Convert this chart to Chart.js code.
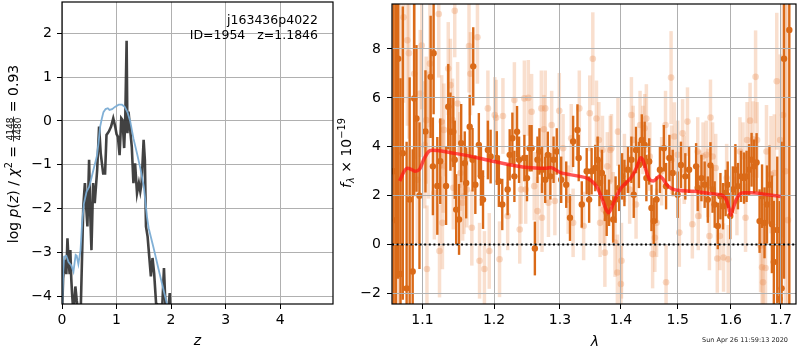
<!DOCTYPE html>
<html>
<head>
<meta charset="utf-8">
<script src="https://cdn.jsdelivr.net/npm/chart.js@4.4.0/dist/chart.umd.min.js"></script>
<style>
  html, body { margin: 0; padding: 0; background: #fff; }
  #wrap { position: relative; width: 800px; height: 350px; }
  #pz { position: absolute; left: 0; top: 0; }
  #spec { position: absolute; left: 334px; top: 0; }
</style>
</head>
<body>
<div id="wrap">
  <canvas id="pz" width="340" height="350"></canvas>
  <canvas id="spec" width="466" height="350"></canvas>
</div>
<script>
// ---- left panel: log p(z)
const zTicks = [0, 1, 2, 3, 4];
const logpTicks = [-4, -3, -2, -1, 0, 1, 2];

// smooth fit (blue)
const zFit = [0, 0.02, 0.04, 0.08, 0.12, 0.17, 0.21, 0.25, 0.27, 0.3, 0.34, 0.37, 0.4, 0.45, 0.5, 0.55, 0.6, 0.64, 0.67, 0.7,
  0.73, 0.76, 0.8, 0.84, 0.87, 0.92, 0.97, 1.04, 1.1, 1.15, 1.2, 1.25, 1.31, 1.375, 1.44, 1.5, 1.53, 1.56, 1.59, 1.68,
  1.77, 1.87, 1.93, 1.97];
const logpFit = [-4.3, -3.5, -3.1, -3.08, -3.22, -3.3, -3.44, -3.06, -3.08, -3.27, -2.95, -2.3, -1.9, -1.62, -1.5, -1.25, -1.0, -0.8, -0.5, -0.13,
  0.05, 0.2, 0.27, 0.29, 0.25, 0.27, 0.32, 0.37, 0.37, 0.32, 0.2, 0.0, -0.4, -0.74, -1.1, -1.5, -1.85, -2.2, -2.45, -2.9,
  -3.38, -3.9, -4.2, -4.5];

// chi2 curve (dark)
const zChi = [0.0, 0.02, 0.05, 0.08, 0.1, 0.12, 0.14, 0.153, 0.17, 0.184, 0.21, 0.245, 0.27, 0.31, 0.34, 0.37, 0.39, 0.42, 0.445, 0.466,
  0.497, 0.52, 0.54, 0.571, 0.6, 0.645, 0.68, 0.71, 0.755, 0.79, 0.816, 0.86, 0.9, 0.94, 0.976, 1.0, 1.025, 1.056, 1.087, 1.11,
  1.14, 1.16, 1.185, 1.2, 1.22, 1.25, 1.28, 1.31, 1.34, 1.376, 1.41, 1.436, 1.46, 1.497, 1.52, 1.54, 1.57, 1.6, 1.63, 1.66,
  1.69, 1.725, 1.76, 1.84, 1.87, 1.9, 1.95, 1.976, 1.99];
const logpChi = [-4.5, -3.6, -3.17, -3.5, -2.68, -3.17, -3.5, -2.95, -3.6, -3.93, -4.4, -3.78, -4.1, -4.5, -4.5, -3.0, -1.96, -1.42, -2.0, -2.41,
  -0.89, -2.2, -2.95, -1.42, -1.88, -1.12, -0.13, -0.74, -1.2, -1.2, -0.32, -0.24, -0.13, 0.06, -0.13, -0.3, -0.36, -0.78, 0.06, 0.02,
  -0.62, 0.02, 1.83, -0.28, 0.21, -0.2, -0.59, -1.42, -0.97, -1.65, -1.42, -1.61, -1.42, -0.43, -0.9, -2.41, -2.64, -3.1, -3.55, -3.13,
  -3.48, -4.16, -4.2, -4.2, -3.36, -4.3, -4.3, -3.93, -4.4];

// ---- right panel: spectrum
const lamTicks = [1.1, 1.2, 1.3, 1.4, 1.5, 1.6, 1.7];
const fluxTicks = [-2, 0, 2, 4, 6, 8];

const darkLam = [1.062, 1.065, 1.068, 1.071, 1.074, 1.079, 1.083, 1.087, 1.089, 1.092, 1.096, 1.104, 1.111, 1.114, 1.115, 1.12, 1.124, 1.132, 1.135, 1.138,
  1.142, 1.144, 1.146, 1.15, 1.153, 1.158, 1.16, 1.165, 1.169, 1.17, 1.173, 1.178, 1.181, 1.184, 1.191, 1.195, 1.204, 1.207, 1.212, 1.22,
  1.223, 1.227, 1.23, 1.234, 1.237, 1.245, 1.249, 1.253, 1.256, 1.261, 1.265, 1.268, 1.272, 1.277, 1.281, 1.285, 1.29, 1.295, 1.302, 1.31,
  1.316, 1.321, 1.328, 1.33, 1.335, 1.343, 1.347, 1.351, 1.357, 1.361, 1.364, 1.368, 1.373, 1.376, 1.38, 1.387, 1.391, 1.397, 1.402, 1.406,
  1.412, 1.418, 1.422, 1.426, 1.431, 1.436, 1.441, 1.444, 1.449, 1.453, 1.457, 1.462, 1.468, 1.475, 1.479, 1.485, 1.491, 1.5, 1.506, 1.514,
  1.521, 1.534, 1.537, 1.544, 1.55, 1.556, 1.561, 1.565, 1.569, 1.575, 1.58, 1.585, 1.59, 1.594, 1.599, 1.604, 1.609, 1.614, 1.62, 1.626,
  1.631, 1.636, 1.641, 1.646, 1.651, 1.657, 1.662, 1.667, 1.672, 1.677, 1.682, 1.686, 1.693, 1.698, 1.702, 1.707, 1.718];
const darkFlux = [3.0, 1.0, 7.6, -1.2, 3.74, -1.79, 1.84, -1.1, 5.98, 5.16, 2.0, 4.63, 6.86, 3.2, 7.83, 2.4, 3.41, 2.4, 5.64, 4.62,
  4.62, 3.47, 1.43, 1.03, 4.15, 3.33, 2.52, 4.82, 3.47, 7.29, 2.45, 4.08, 2.79, 1.84, 3.87, 3.6, 3.54, 2.59, 1.64, 2.25,
  3.67, 4.35, 2.79, 4.62, 3.47, 3.54, 2.72, 3.94, 3.94, -0.16, 3.47, 3.81, 3.06, 2.65, 3.67, 2.79, 3.47, 3.81, 2.65, 2.45,
  1.1, 4.22, 4.69, 3.54, 1.64, 3.0, 1.84, 3.0, 3.13, 3.47, 2.52, 2.93, 1.91, 1.3, 1.71, 1.03, 1.84, 2.32, 2.79, 2.52,
  3.06, 3.47, 2.04, 3.87, 3.26, 4.28, 4.08, 2.72, 3.4, 1.5, 0.96, 1.84, 3.06, 3.94, 2.39, 3.54, 2.93, 2.04, 3.26, 2.79,
  3.06, 3.2, 2.32, 2.72, 2.45, 1.84, 3.24, 2.25, 1.64, 0.76, 1.98, 1.57, 2.11, 2.45, 1.17, 2.25, 3.06, 2.39, 2.79, 2.72,
  2.79, 3.06, 3.47, 3.2, 3.36, 0.96, 1.98, 0.89, 1.64, 2.45, 0.83, -0.71, 0.6, -2.22, -1.79, 7.6, 8.78];
const darkErr = [12, 10, 9, 8, 6, 6, 5, 5, 4, 3, 3, 2.5, 2.5, 2, 2.5, 2, 1.75, 1.6, 1.75, 1.6,
  1.45, 1.6, 1.45, 1.45, 1.6, 1.3, 1.45, 1.3, 1.3, 1.6, 1.2, 1.3, 1.2, 1.2, 1.2, 1.1, 1.1, 1.05, 1.05, 1.05,
  1.05, 1.05, 1.05, 1.05, 0.95, 0.95, 0.95, 0.95, 0.95, 1.1, 0.95, 0.95, 0.95, 0.95, 0.95, 0.95, 0.95, 0.95, 0.95, 0.95,
  0.95, 1.05, 1.05, 0.95, 0.95, 0.95, 0.95, 0.95, 0.95, 0.95, 0.95, 0.95, 0.95, 0.95, 0.95, 0.95, 0.95, 0.95, 0.95, 0.95,
  0.95, 0.95, 0.95, 0.95, 0.95, 1.05, 0.95, 0.95, 0.95, 0.95, 0.95, 0.95, 0.95, 0.95, 0.95, 0.95, 0.95, 0.95, 0.95, 0.95,
  0.95, 0.95, 0.95, 0.95, 0.95, 0.95, 0.95, 0.95, 0.95, 0.95, 0.95, 0.95, 0.95, 0.95, 0.95, 0.95, 1.05, 0.95, 1.05, 1.05,
  1.05, 1.05, 1.1, 1.1, 1.2, 1.3, 1.3, 1.45, 1.6, 1.6, 2, 2.5, 3, 4, 6, 9, 12];

const lightLam = [1.063, 1.066, 1.07, 1.075, 1.08, 1.082, 1.089, 1.093, 1.097, 1.099, 1.103, 1.105, 1.106, 1.108, 1.11, 1.116, 1.122, 1.123, 1.126, 1.127,
  1.128, 1.129, 1.135, 1.138, 1.141, 1.142, 1.144, 1.148, 1.151, 1.152, 1.155, 1.157, 1.161, 1.164, 1.166, 1.168, 1.176, 1.179, 1.186, 1.191,
  1.193, 1.201, 1.203, 1.208, 1.213, 1.22, 1.23, 1.238, 1.24, 1.245, 1.247, 1.251, 1.256, 1.26, 1.265, 1.271, 1.272, 1.275, 1.277, 1.282,
  1.287, 1.292, 1.299, 1.305, 1.313, 1.318, 1.321, 1.331, 1.338, 1.348, 1.353, 1.359, 1.363, 1.365, 1.369, 1.371, 1.373, 1.377, 1.382, 1.384,
  1.387, 1.39, 1.394, 1.395, 1.4, 1.401, 1.406, 1.415, 1.418, 1.421, 1.426, 1.433, 1.438, 1.441, 1.444, 1.45, 1.455, 1.459, 1.462, 1.471,
  1.478, 1.479, 1.488, 1.489, 1.494, 1.5, 1.503, 1.509, 1.512, 1.518, 1.527, 1.537, 1.538, 1.541, 1.547, 1.553, 1.556, 1.559, 1.561, 1.565,
  1.571, 1.574, 1.579, 1.586, 1.592, 1.595, 1.609, 1.612, 1.618, 1.624, 1.629, 1.632, 1.638, 1.644, 1.649, 1.652, 1.659, 1.662, 1.664, 1.669,
  1.671, 1.68, 1.687, 1.692, 1.699, 1.705, 1.71, 1.715];
const lightFlux = [4.0, 6.0, 2.0, 9.3, 8.36, 7.83, 6.99, 2.65, 6.18, 8.14, 4.08, 5.09, -1.0, 4.48, 7.4, 2.11, 9.43, -0.26, 5.03, 0.89,
  3.2, 4.69, 7.2, 6.52, 5.09, 2.32, 9.56, 5.77, 3.87, 2.93, 1.71, 1.98, 2.25, 8.12, 6.99, 0.69, 8.48, -0.66, -1.0, 5.57,
  -0.26, 5.3, 5.19, -0.6, 5.26, 1.17, 5.91, 0.62, 2.25, 5.98, 2.25, 6.0, 5.43, 2.39, 1.37, 5.57, 1.1, 4.72, 5.57, 1.71,
  4.89, 1.78, 5.47, 3.94, 1.84, 4.35, 0.89, 5.57, 0.76, 5.37, 7.6, 5.16, 4.28, 0.89, 3.87, 1.43, -0.33, 3.2, 3.87, 3.94,
  1.57, 0.08, -1.14, 4.62, -1.61, -0.66, 3.13, 2.25, 5.3, 4.28, 1.64, 4.89, 4.28, 4.76, 5.16, 3.6, -0.39, 0.28, 0.89, 3.0,
  4.89, -1.54, 6.83, 3.47, 4.42, 3.67, 0.49, 4.55, 3.06, 5.03, 0.83, 3.81, 1.17, 2.45, 3.6, 3.67, 2.52, 0.35, 5.2, 3.6,
  3.13, -0.57, 0.35, -0.53, 2.72, -0.6, 2.65, 1.78, 3.81, 3.6, 1.1, 4.28, 5.07, 4.31, 6.86, 4.28, -0.05, -0.93, -1.54, -0.96,
  3.81, 2.86, 2.93, 6.68, 4.28, 5.3, 3.0, 1.0];
const lightErr = [12, 10, 8, 3.5, 3.5, 3.5, 3.5, 2.6, 2.6, 2.6, 2.6, 2.6, 2.6, 2.6, 2.6, 1.9, 2.6, 1.9, 1.9, 1.9,
  1.9, 1.9, 1.9, 1.9, 1.7, 1.7, 1.9, 1.7, 1.55, 1.55, 1.55, 1.55, 1.55, 1.9, 1.7, 1.55, 1.9, 1.55, 1.55, 1.55,
  1.55, 1.55, 1.55, 1.55, 1.55, 1.4, 1.55, 1.4, 1.4, 1.55, 1.4, 1.55, 1.55, 1.4, 1.4, 1.55, 1.4, 1.4, 1.55, 1.4,
  1.4, 1.4, 1.55, 1.4, 1.4, 1.4, 1.4, 1.55, 1.4, 1.55, 1.9, 1.55, 1.55, 1.4, 1.4, 1.4, 1.4, 1.4, 1.4, 1.4,
  1.4, 1.4, 1.55, 1.4, 1.55, 1.55, 1.4, 1.4, 1.55, 1.4, 1.4, 1.4, 1.4, 1.4, 1.4, 1.4, 1.4, 1.4, 1.4, 1.4,
  1.4, 1.55, 1.9, 1.4, 1.4, 1.4, 1.4, 1.4, 1.4, 1.4, 1.4, 1.4, 1.4, 1.4, 1.4, 1.4, 1.4, 1.4, 1.55, 1.4,
  1.4, 1.4, 1.4, 1.4, 1.4, 1.4, 1.4, 1.4, 1.4, 1.4, 1.4, 1.55, 1.55, 1.55, 1.9, 1.55, 1.9, 1.9, 2.4, 2.4,
  1.9, 2.4, 2.4, 2.8, 3.5, 5, 9, 10];

// best-fit template (red)
const modelLam = [1.07, 1.075, 1.08, 1.085, 1.09, 1.096, 1.102, 1.108, 1.113, 1.12, 1.14, 1.16, 1.2, 1.25, 1.277, 1.285, 1.3, 1.33, 1.345, 1.351,
  1.36, 1.368, 1.374, 1.379, 1.385, 1.392, 1.4, 1.41, 1.418, 1.426, 1.431, 1.434, 1.438, 1.444, 1.45, 1.456, 1.462, 1.467, 1.473, 1.48,
  1.488, 1.494, 1.5, 1.53, 1.55, 1.575, 1.585, 1.592, 1.597, 1.6, 1.604, 1.61, 1.617, 1.625, 1.64, 1.67, 1.7];
const modelFlux = [2.6, 2.95, 3.12, 3.08, 3.0, 3.08, 3.5, 3.8, 3.86, 3.85, 3.75, 3.65, 3.4, 3.15, 3.12, 3.15, 2.95, 2.8, 2.7, 2.6,
  2.35, 1.9, 1.5, 1.3, 1.55, 1.95, 2.3, 2.55, 2.75, 3.1, 3.4, 3.55, 3.45, 3.0, 2.65, 2.6, 2.7, 2.8, 2.7, 2.45,
  2.3, 2.25, 2.22, 2.18, 2.12, 2.05, 2.0, 1.8, 1.45, 1.2, 1.45, 1.8, 2.05, 2.12, 2.12, 2.05, 1.97];

const zeroLam = [1.06, 1.732];
const zeroFlux = [0, 0];

const pts = (xs, ys) => xs.map((x, i) => ({ x: x, y: ys[i] }));
const minus = v => String(v).replace('-', '\u2212');
const tickFont = { family: 'DejaVu Sans', size: 14 };

function fixBox(w, h) {
  return s => {
    if (w !== null) s.width = w;
    if (h !== null) s.height = h;
    s.paddingLeft = s.paddingRight = s.paddingTop = s.paddingBottom = 0;
  };
}

const frame = {
  id: 'frame',
  afterDraw(chart) {
    const { ctx, chartArea: a } = chart;
    ctx.save();
    ctx.strokeStyle = '#000';
    ctx.lineWidth = 1.2;
    ctx.strokeRect(a.left, a.top, a.right - a.left, a.bottom - a.top);
    ctx.restore();
  }
};

// mathtext-ish label pieces
function partWidth(ctx, p) {
  if (p.frac) {
    ctx.font = p.size + 'px "DejaVu Sans"';
    return Math.max(ctx.measureText(p.frac[0]).width, ctx.measureText(p.frac[1]).width) + 2;
  }
  ctx.font = (p.italic ? 'italic ' : '') + p.size + 'px "DejaVu Sans"';
  return ctx.measureText(p.t).width;
}
function drawParts(ctx, parts, cx, base) {
  const total = parts.reduce((s, p) => s + partWidth(ctx, p), 0);
  let x = cx - total / 2;
  ctx.textAlign = 'left';
  ctx.textBaseline = 'alphabetic';
  parts.forEach(p => {
    const w = partWidth(ctx, p);
    if (p.frac) {
      ctx.textAlign = 'center';
      ctx.fillText(p.frac[0], x + w / 2, base - 5.5);
      ctx.fillText(p.frac[1], x + w / 2, base + 3);
      ctx.fillRect(x, base - 4.8, w, 0.8);
      ctx.textAlign = 'left';
    } else {
      ctx.fillText(p.t, x, base + (p.dy || 0));
    }
    x += w;
  });
}

const leftText = {
  id: 'leftText',
  afterDraw(chart) {
    const ctx = chart.ctx;
    ctx.save();
    ctx.fillStyle = '#000';
    ctx.font = '12.5px "DejaVu Sans"';
    ctx.textAlign = 'right';
    ctx.fillText('j163436p4022', 318, 24);
    ctx.fillText('ID=1954   z=1.1846', 318, 39);
    ctx.font = 'italic 14px "DejaVu Sans"';
    ctx.textAlign = 'center';
    ctx.fillText('z', 197.5, 345);
    ctx.translate(18, 154);
    ctx.rotate(-Math.PI / 2);
    drawParts(ctx, [
      { t: 'log ', size: 14 }, { t: 'p', italic: true, size: 14 }, { t: '(', size: 14 },
      { t: 'z', italic: true, size: 14 }, { t: ') / ', size: 14 }, { t: '\u03c7', italic: true, size: 14 },
      { t: '2', size: 9.8, dy: -6 }, { t: ' = ', size: 14 }, { frac: ['4148', '4480'], size: 9 },
      { t: ' = 0.93', size: 14 }
    ], 0, 0);
    ctx.restore();
  }
};

const rightText = {
  id: 'rightText',
  afterDraw(chart) {
    const ctx = chart.ctx;
    ctx.save();
    ctx.fillStyle = '#000';
    ctx.font = 'italic 14px "DejaVu Sans"';
    ctx.textAlign = 'center';
    ctx.fillText('\u03bb', 261, 346);
    ctx.font = '6.5px "DejaVu Sans"';
    ctx.textAlign = 'right';
    ctx.fillStyle = '#222';
    ctx.fillText('Sun Apr 26 11:59:13 2020', 454, 342);
    ctx.fillStyle = '#000';
    ctx.translate(16.5, 153);
    ctx.rotate(-Math.PI / 2);
    drawParts(ctx, [
      { t: 'f', italic: true, size: 14 }, { t: '\u03bb', italic: true, size: 9.8, dy: 3 },
      { t: ' \u00d7 10', size: 14 }, { t: '\u221219', size: 9.8, dy: -6 }
    ], 0, 0);
    ctx.restore();
  }
};

// vertical error bars drawn through the chart scales, just under each dataset
const errorBars = {
  id: 'errorBars',
  beforeDatasetDraw(chart, args) {
    const ds = chart.data.datasets[args.index];
    if (!ds.errors) return;
    const { ctx, chartArea: a, scales: { x, y } } = chart;
    ctx.save();
    ctx.beginPath();
    ctx.rect(a.left, a.top, a.right - a.left, a.bottom - a.top);
    ctx.clip();
    ctx.strokeStyle = ds.barColor;
    ctx.lineWidth = ds.barWidth;
    ds.data.forEach((p, i) => {
      const px = x.getPixelForValue(p.x);
      ctx.beginPath();
      ctx.moveTo(px, y.getPixelForValue(p.y - ds.errors[i]));
      ctx.lineTo(px, y.getPixelForValue(p.y + ds.errors[i]));
      ctx.stroke();
    });
    ctx.restore();
  }
};

// grid sits over the data points but under the model line
const gridOver = {
  id: 'gridOver',
  beforeDatasetDraw(chart, args) {
    if (args.index !== 2) return;
    chart.scales.x.drawGrid(chart.chartArea);
    chart.scales.y.drawGrid(chart.chartArea);
  }
};

const gridOpts = { color: '#b0b0b0', lineWidth: 1, tickColor: '#000', tickLength: 5, tickWidth: 1 };

new Chart(document.getElementById('pz'), {
  type: 'scatter',
  data: {
    datasets: [
      { data: pts(zChi, logpChi), showLine: true, borderColor: 'rgba(50,50,50,0.92)', borderWidth: 2.6, pointRadius: 0, order: 2 },
      { data: pts(zFit, logpFit), showLine: true, borderColor: 'rgba(122,172,212,0.95)', borderWidth: 1.8, pointRadius: 0, order: 1 }
    ]
  },
  options: {
    responsive: false, animation: false, events: [],
    layout: { padding: { left: 0, top: 2, right: 7, bottom: 0 } },
    plugins: { legend: { display: false }, tooltip: { enabled: false } },
    scales: {
      x: {
        type: 'linear', min: 0, max: 4.97,
        afterBuildTicks: s => { s.ticks = zTicks.map(v => ({ value: v })); },
        afterFit: fixBox(null, 46),
        grid: gridOpts, border: { display: false },
        ticks: { color: '#000', font: tickFont, padding: 3, autoSkip: false, maxRotation: 0, callback: v => minus(v) }
      },
      y: {
        type: 'linear', min: -4.18, max: 2.715,
        afterBuildTicks: s => { s.ticks = logpTicks.map(v => ({ value: v })); },
        afterFit: fixBox(62, null),
        grid: gridOpts, border: { display: false },
        ticks: { color: '#000', font: tickFont, padding: 5, autoSkip: false, callback: v => minus(v) }
      }
    }
  },
  plugins: [frame, leftText]
});

new Chart(document.getElementById('spec'), {
  type: 'scatter',
  data: {
    datasets: [
      { data: pts(lightLam, lightFlux), errors: lightErr, barColor: 'rgba(232,140,80,0.28)', barWidth: 3.5,
        pointRadius: 3.3, backgroundColor: 'rgba(232,140,80,0.32)', borderWidth: 0, order: 4 },
      { data: pts(darkLam, darkFlux), errors: darkErr, barColor: 'rgb(218,106,24)', barWidth: 2.4,
        pointRadius: 3.2, backgroundColor: 'rgb(218,106,24)', borderWidth: 0, order: 3 },
      { data: pts(modelLam, modelFlux), showLine: true, borderColor: 'rgba(255,20,20,0.72)', borderWidth: 3.5,
        pointRadius: 0, cubicInterpolationMode: 'monotone', order: 2 },
      { data: pts(zeroLam, zeroFlux), showLine: true, borderColor: '#000', borderWidth: 2, borderDash: [2, 2.6],
        pointRadius: 0, order: 1 }
    ]
  },
  options: {
    responsive: false, animation: false, events: [],
    layout: { padding: { left: 0, top: 2, right: 1, bottom: 0 } },
    plugins: { legend: { display: false }, tooltip: { enabled: false } },
    scales: {
      x: {
        type: 'logarithmic', min: 1.06, max: 1.732,
        afterBuildTicks: s => { s.ticks = lamTicks.map(v => ({ value: v })); },
        afterFit: fixBox(null, 46),
        grid: gridOpts, border: { display: false },
        ticks: { color: '#000', font: tickFont, padding: 3, autoSkip: false, maxRotation: 0, callback: v => Number(v).toFixed(1) }
      },
      y: {
        type: 'linear', min: -2.43, max: 9.84,
        afterBuildTicks: s => { s.ticks = fluxTicks.map(v => ({ value: v })); },
        afterFit: fixBox(58, null),
        grid: gridOpts, border: { display: false },
        ticks: { color: '#000', font: tickFont, padding: 6, autoSkip: false, callback: v => minus(v) }
      }
    }
  },
  plugins: [errorBars, gridOver, frame, rightText]
});
</script>
</body>
</html>
